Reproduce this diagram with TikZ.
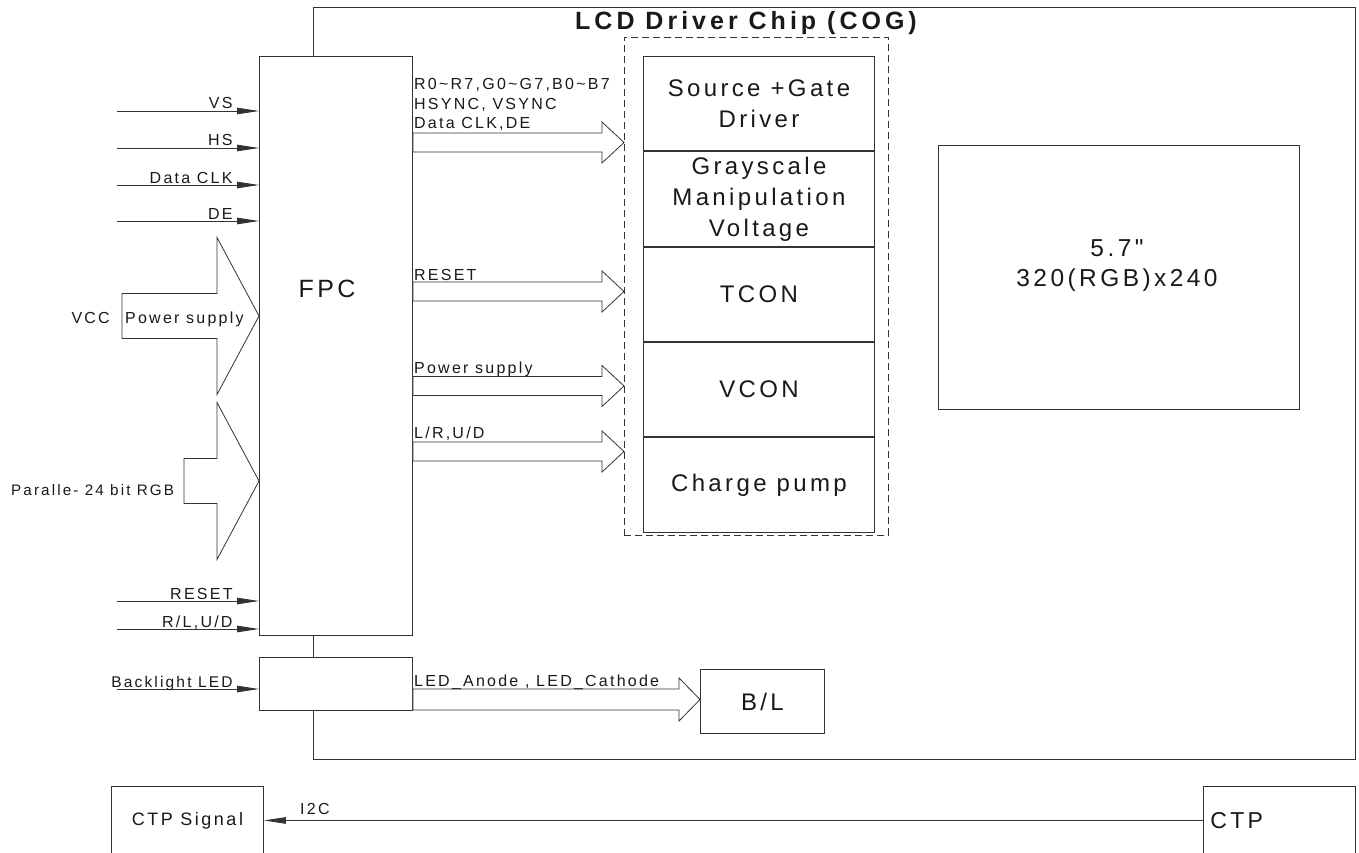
\documentclass[tikz,border=0pt]{standalone}
\usepackage{fontspec}
\setmainfont{Liberation Sans}[LetterSpace=14,Ligatures=TeXOff]
\usetikzlibrary{arrows.meta,positioning,calc}

% hollow block arrow: tail, tip, shaft half width, head half width, head length
\newcommand\fatarrow[5]{%
  \draw[fat] let \p1=(#1), \p2=(#2) in
    (\x1,\y2+#3) -- (\x2-#5,\y2+#3) -- (\x2-#5,\y2+#4) -- (\x2,\y2)
    -- (\x2-#5,\y2-#4) -- (\x2-#5,\y2-#3) -- (\x1,\y2-#3) -- cycle;}

\begin{document}
\begin{tikzpicture}[x=1pt,y=-1pt,node distance=0pt,
    box/.style={draw=black!80,line width=0.9pt,fill=white,rectangle,inner sep=0pt,anchor=north west,text=black!90},
    blk/.style={box,minimum width=231,minimum height=94.4,align=center,font=\fontsize{24}{31}\selectfont},
    sig/.style={font=\fontsize{16}{19.5}\selectfont,inner sep=0pt,text=black!90},
    big/.style={font=\fontsize{24.5}{30}\selectfont,text=black!90,align=center},
    wire/.style={draw=black!80,line width=0.9pt,-{Triangle[length=22pt,width=6.5pt]}},
    fat/.style={draw=black!80,line width=0.8pt,fill=white}]
    \useasboundingbox (0,0) rectangle (1359,853);

    % chip outline and blocks
    \node[box,fill=none,minimum width=1042,minimum height=752] (chip) at (313,7) {};
    \node[font=\fontsize{25}{28}\selectfont\bfseries\addfontfeature{LetterSpace=16},text=black!90] (title) at (746,23) {LCD Driver Chip (COG)};
    \node[box,fill=none,dashed,dash pattern=on 7pt off 4pt,minimum width=264,minimum height=498] (dash) at (624,37) {};
    \node[blk] (src) at (643,56) {Source +Gate\\Driver};
    \node[blk,below=of src] (gray) {Grayscale\\Manipulation\\Voltage};
    \node[blk,below=of gray] (tcon) {TCON};
    \node[blk,below=of tcon] (vcon) {VCON};
    \node[blk,below=of vcon] (pump) {Charge pump};
    \node[box,minimum width=361,minimum height=264] (disp) at (938,145) {};
    \node[big] (disptxt) at (1117,266) {5.7"\\320(RGB)x240};

    \node[box,minimum width=153,minimum height=579] (fpc) at (259,56) {};
    \node[font=\fontsize{25}{30}\selectfont,text=black!90] (fpctxt) at (327,289) {FPC};
    \node[box,minimum width=153,minimum height=53] (led) at (259,657) {};
    \node[box,minimum width=124,minimum height=64,font=\fontsize{24}{28}\selectfont] (bl) at (700,669) {B/L};
    \node[box,minimum width=152,minimum height=68,font=\fontsize{18}{22}\selectfont] (ctpsig) at (111,786) {CTP Signal};
    \node[box,text width=138,minimum height=68,inner xsep=7pt,align=left,font=\fontsize{23}{28}\selectfont] (ctp) at (1203,786) {CTP};

    % single input lines
    \foreach \ty/\txt in {111/VS, 148/HS, 185/Data CLK, 221/DE, 601/RESET, 629/{R/L,U/D}}{
        \coordinate (in\ty) at (117,\ty);
        \draw[wire] (in\ty) -- (fpc.west |- in\ty)
            node[sig,anchor=base east,xshift=-26pt,yshift=2pt] {\txt};
    }
    \coordinate (bklin) at (117,689);
    \draw[wire] (bklin) -- (led.west |- bklin)
        node[sig,anchor=base east,xshift=-26pt,yshift=2pt,font=\fontsize{15.5}{19}\selectfont] {Backlight LED};

    % wide inputs
    \coordinate (vcctail) at (122,316);
    \coordinate (rgbtail) at (184,481);
    \fatarrow{vcctail}{fpc.west |- vcctail}{22.5pt}{78.5pt}{42pt}
    \fatarrow{rgbtail}{fpc.west |- rgbtail}{22.5pt}{78.5pt}{42pt}
    \node[sig,anchor=base east] at (110,323) {VCC};
    \node[sig,anchor=base west] at (125,323) {Power supply};
    \node[sig,anchor=base west,font=\fontsize{15.2}{19}\selectfont] at (11,495) {Paralle- 24 bit RGB};

    % buses to the driver
    \foreach \ty in {142.5,291.5,386,451.5}{
        \coordinate (bus) at (dash.west |- 0,\ty);
        \fatarrow{fpc.east}{bus}{9.5pt}{20.5pt}{22pt}
    }
    \node[sig,anchor=south west,align=left] at (414,131) {R0\textasciitilde R7,G0\textasciitilde G7,B0\textasciitilde B7\\HSYNC, VSYNC\\Data CLK,DE};
    \node[sig,anchor=base west] at (414,280) {RESET};
    \node[sig,anchor=base west] at (414,373) {Power supply};
    \node[sig,anchor=base west] at (414,438) {L/R,U/D};

    \coordinate (bltip) at (bl.west |- 0,699.5);
    \fatarrow{led.east}{bltip}{10.5pt}{21.5pt}{21pt}
    \node[sig,anchor=base west] at (414,686) {LED\_Anode , LED\_Cathode};

    % touch panel
    \draw[wire] (ctp.west) -- (ctpsig.east);
    \node[sig,anchor=base west] at (300,814) {I2C};
\end{tikzpicture}
\end{document}
